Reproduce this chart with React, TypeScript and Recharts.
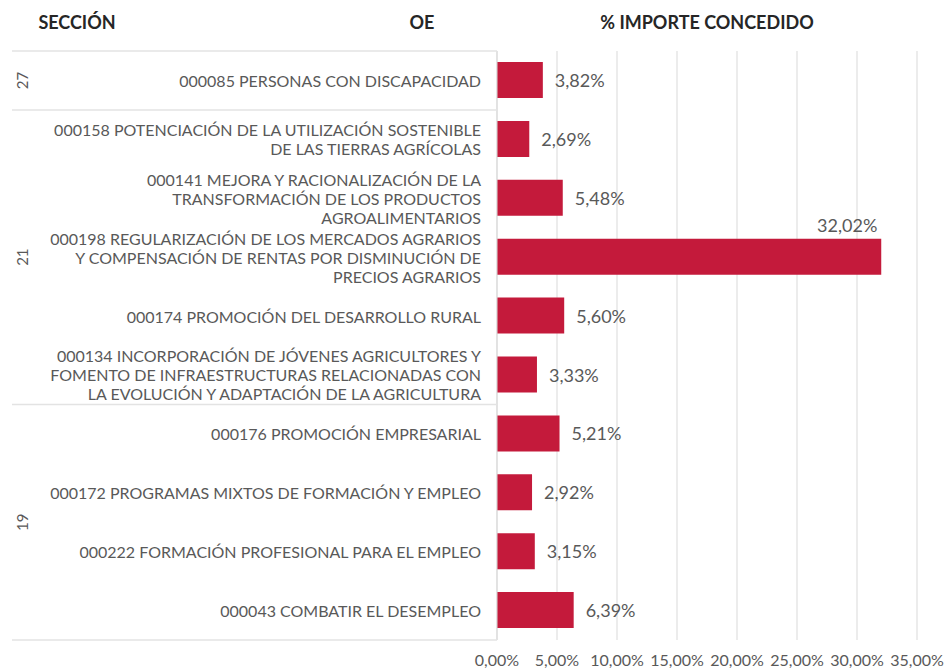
import React from 'react';
import { BarChart, Bar, XAxis, YAxis, CartesianGrid, LabelList } from 'recharts';

const categories = [
  '000085 PERSONAS CON DISCAPACIDAD',
  '000158 POTENCIACIÓN DE LA UTILIZACIÓN SOSTENIBLE\nDE LAS TIERRAS AGRÍCOLAS',
  '000141 MEJORA Y RACIONALIZACIÓN DE LA\nTRANSFORMACIÓN DE LOS PRODUCTOS\nAGROALIMENTARIOS',
  '000198 REGULARIZACIÓN DE LOS MERCADOS AGRARIOS\nY COMPENSACIÓN DE RENTAS POR DISMINUCIÓN DE\nPRECIOS AGRARIOS',
  '000174 PROMOCIÓN DEL DESARROLLO RURAL',
  '000134 INCORPORACIÓN DE JÓVENES AGRICULTORES Y\nFOMENTO DE INFRAESTRUCTURAS RELACIONADAS CON\nLA EVOLUCIÓN Y ADAPTACIÓN DE LA AGRICULTURA',
  '000176 PROMOCIÓN EMPRESARIAL',
  '000172 PROGRAMAS MIXTOS DE FORMACIÓN Y EMPLEO',
  '000222 FORMACIÓN PROFESIONAL PARA EL EMPLEO',
  '000043 COMBATIR EL DESEMPLEO',
];
const sections = ['27', '21', '21', '21', '21', '21', '19', '19', '19', '19'];
const importe = [3.82, 2.69, 5.48, 32.02, 5.6, 3.33, 5.21, 2.92, 3.15, 6.39];
const xTicks = [0, 5, 10, 15, 20, 25, 30, 35];
const headers = [
  { text: 'SECCIÓN', x: 77 },
  { text: 'OE', x: 422 },
  { text: '% IMPORTE CONCEDIDO', x: 707 },
];

const data = categories.map((name, i) => ({ name, section: sections[i], value: importe[i] }));

const W = 944;
const H = 668;
const TOP = 51;
const BOTTOM_AXIS = 28;
const LEFT = 12;
const PLOT_LEFT = 497;
const ROW_H = (H - TOP - BOTTOM_AXIS) / categories.length;
const FONT = 'Lato, "Open Sans", sans-serif';
const GREY = '#595959';
const LINE = '#e3e3e3';

const fmt = (v: number) => v.toFixed(2).replace('.', ',') + '%';

const CategoryTick = (props: any) => {
  const { y, index, payload } = props;
  const lines = String(payload.value).split('\n');
  const lh = 19;
  const startY = y - ((lines.length - 1) * lh) / 2;
  const sec = sections[index];
  const first = index === 0 || sections[index - 1] !== sec;
  const last = index === sections.length - 1;
  let groupSize = 0;
  if (first) {
    for (let j = index; j < sections.length && sections[j] === sec; j++) groupSize++;
  }
  const secY = y + ((groupSize - 1) * ROW_H) / 2;
  return (
    <g>
      {first && (
        <line x1={LEFT} x2={PLOT_LEFT} y1={y - ROW_H / 2} y2={y - ROW_H / 2} stroke={LINE} strokeWidth={1.5} />
      )}
      {last && (
        <line x1={LEFT} x2={PLOT_LEFT} y1={y + ROW_H / 2} y2={y + ROW_H / 2} stroke={LINE} strokeWidth={1.5} />
      )}
      {first && (
        <text
          x={22}
          y={secY}
          transform={`rotate(-90 22 ${secY})`}
          textAnchor="middle"
          dominantBaseline="central"
          fill={GREY}
          fontSize={15}
          fontFamily={FONT}
        >
          {sec}
        </text>
      )}
      <text x={481} y={startY} textAnchor="end" fill={GREY} fontSize={16} fontFamily={FONT}>
        {lines.map((l, k) => (
          <tspan key={k} x={481} y={startY + k * lh} dominantBaseline="central">
            {l}
          </tspan>
        ))}
      </text>
    </g>
  );
};

const ValueLabel = (props: any) => {
  const { x, y, width, height, value } = props;
  const end = x + width;
  if (value > 20) {
    return (
      <text x={end - 34} y={y - 14} textAnchor="middle" dominantBaseline="central" fill={GREY} fontSize={18} fontFamily={FONT}>
        {fmt(value)}
      </text>
    );
  }
  return (
    <text x={end + 12} y={y + height / 2} textAnchor="start" dominantBaseline="central" fill={GREY} fontSize={18} fontFamily={FONT}>
      {fmt(value)}
    </text>
  );
};

export default function App() {
  return (
    <div style={{ position: 'absolute', left: 0, top: 0, width: W, height: H, background: '#fff', fontFamily: FONT }}>
      {headers.map((h) => (
        <div
          key={h.text}
          style={{
            position: 'absolute',
            left: h.x - 150,
            width: 300,
            top: 11,
            lineHeight: '22px',
            textAlign: 'center',
            fontWeight: 700,
            fontSize: 18,
            color: '#262626',
          }}
        >
          {h.text}
        </div>
      ))}
      <BarChart
        width={W}
        height={H}
        data={data}
        layout="vertical"
        margin={{ top: TOP, right: 27, bottom: 0, left: LEFT }}
        barCategoryGap={0}
      >
        <CartesianGrid horizontal={false} stroke="#d9d9d9" />
        <XAxis
          type="number"
          domain={[0, 35]}
          ticks={xTicks}
          tickFormatter={fmt}
          axisLine={false}
          tickLine={false}
          height={BOTTOM_AXIS}
          tickMargin={9}
          tick={{ fill: GREY, fontSize: 16, fontFamily: FONT }}
          interval={0}
        />
        <YAxis
          type="category"
          dataKey="name"
          width={PLOT_LEFT - LEFT}
          tickLine={false}
          axisLine={{ stroke: '#d9d9d9' }}
          tick={<CategoryTick />}
          interval={0}
        />
        <Bar dataKey="value" fill="#c41a3b" barSize={36} isAnimationActive={false}>
          <LabelList dataKey="value" content={<ValueLabel />} />
        </Bar>
      </BarChart>
    </div>
  );
}
